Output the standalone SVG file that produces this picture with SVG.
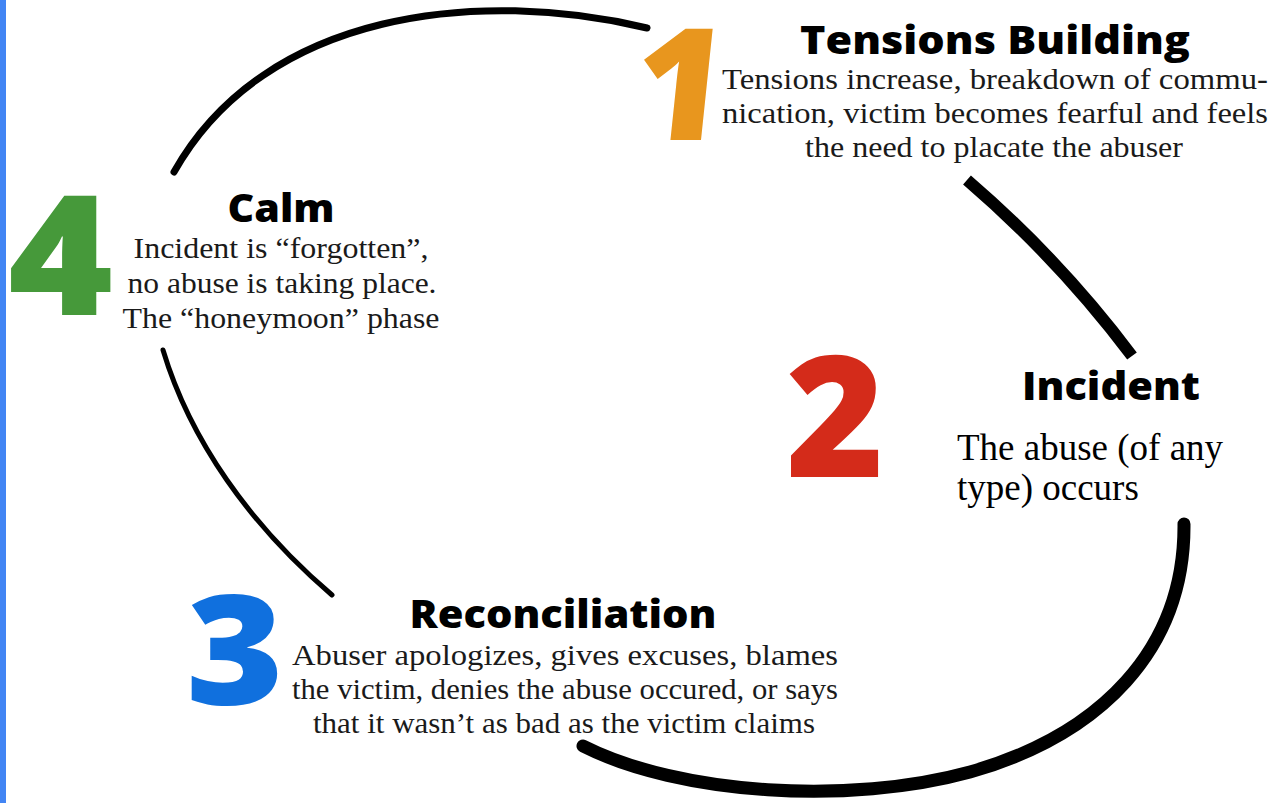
<svg xmlns="http://www.w3.org/2000/svg" width="1273" height="803" viewBox="0 0 1273 803">
<style>
.head{font-family:"Open Sans","Liberation Sans",sans-serif;font-weight:800;fill:#000;text-anchor:middle}
.body{font-family:"Liberation Serif","DejaVu Serif",serif;font-size:29px;fill:#1a1a1a;text-anchor:middle}
.num{font-family:"Open Sans","DejaVu Sans",sans-serif;font-weight:800}
.arc{fill:none;stroke:#000}
</style>
<rect x="0" y="0" width="1273" height="803" fill="#fff"/>
<rect x="0" y="0" width="6" height="803" fill="#4285F4"/>
<g id="connectors">
<path class="arc" d="M174,172 C265,10 480,-12 647,28" stroke-width="7" stroke-linecap="round"/>
<path class="arc" d="M967,180 Q1060,260 1132,356" stroke-width="12" stroke-linecap="butt"/>
<path class="arc" d="M583,746 C680,795 850,805 970,772 C1100,735 1185,650 1184,524" stroke-width="13" stroke-linecap="round"/>
<path class="arc" d="M163,350 C190,440 250,525 332,595" stroke-width="5" stroke-linecap="round"/>
</g>
<g id="node1">
<text class="num" x="630" y="140" font-size="156" fill="#E8961E" transform="skewX(-6) translate(14,0)">1</text>
<text class="head" x="995" y="54" font-size="39" textLength="390" lengthAdjust="spacingAndGlyphs">Tensions Building</text>
<text class="body" x="995" y="89" textLength="546" lengthAdjust="spacingAndGlyphs">Tensions increase, breakdown of commu-</text>
<text class="body" x="995" y="123" textLength="546" lengthAdjust="spacingAndGlyphs">nication, victim becomes fearful and feels</text>
<text class="body" x="994" y="157" textLength="378" lengthAdjust="spacingAndGlyphs">the need to placate the abuser</text>
</g>
<g id="node2">
<text class="num" x="786" y="477" font-size="168" fill="#D42B1A">2</text>
<text class="head" x="1111" y="400" font-size="38" textLength="178" lengthAdjust="spacingAndGlyphs">Incident</text>
<text x="957" y="460" font-family="Liberation Serif,serif" font-size="37" fill="#000">The abuse (of any</text>
<text x="957" y="500" font-family="Liberation Serif,serif" font-size="37" fill="#000">type) occurs</text>
</g>
<g id="node3">
<text class="num" x="0" y="0" font-size="152" fill="#1070DE" transform="translate(186,705) scale(1.1,1)">3</text>
<text class="head" x="563" y="628" font-size="38" textLength="307" lengthAdjust="spacingAndGlyphs">Reconciliation</text>
<text class="body" x="565" y="665" textLength="546" lengthAdjust="spacingAndGlyphs">Abuser apologizes, gives excuses, blames</text>
<text class="body" x="565" y="699" textLength="546" lengthAdjust="spacingAndGlyphs">the victim, denies the abuse occured, or says</text>
<text class="body" x="564" y="733" textLength="502" lengthAdjust="spacingAndGlyphs">that it wasn’t as bad as the victim claims</text>
</g>
<g id="node4">
<text class="num" x="0" y="0" font-size="166" fill="#46993A" transform="translate(8,315) scale(1.08,1)">4</text>
<text class="head" x="281" y="222" font-size="38" textLength="107" lengthAdjust="spacingAndGlyphs">Calm</text>
<text class="body" x="281" y="258" textLength="295" lengthAdjust="spacingAndGlyphs">Incident is “forgotten”,</text>
<text class="body" x="282" y="293" textLength="309" lengthAdjust="spacingAndGlyphs">no abuse is taking place.</text>
<text class="body" x="281" y="328" textLength="317" lengthAdjust="spacingAndGlyphs">The “honeymoon” phase</text>
</g>
</svg>
